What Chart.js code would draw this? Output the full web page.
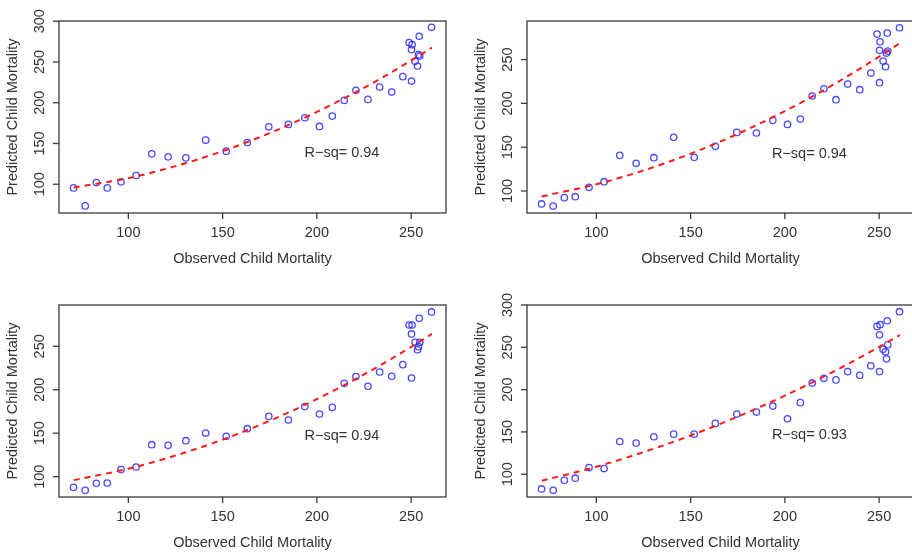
<!DOCTYPE html>
<html>
<head>
<meta charset="utf-8">
<script src="https://cdn.jsdelivr.net/npm/chart.js@4.4.1/dist/chart.umd.min.js"></script>
<style>
html, body { margin: 0; padding: 0; background: #fff; width: 912px; height: 552px; overflow: hidden; position: relative; }
canvas { position: absolute; }
</style>
</head>
<body>
<canvas id="c1" width="456" height="276" style="left:0;top:0"></canvas>
<canvas id="c2" width="470" height="276" style="left:456px;top:0"></canvas>
<canvas id="c3" width="456" height="276" style="left:0;top:276px"></canvas>
<canvas id="c4" width="470" height="276" style="left:456px;top:276px"></canvas>
<script>
// observed child mortality (same for every panel)
const observed = [70.9, 77.1, 83.0, 88.8, 96.1, 104.1, 112.4, 121.1, 130.5, 141.0, 151.9, 163.1, 174.5, 184.9, 193.6, 201.4, 208.2, 214.5, 220.7, 227.1, 233.3, 239.7, 245.6, 248.9, 250.2, 250.2, 250.5, 252.1, 253.4, 253.9, 254.3, 254.6, 260.8];

// predicted values, one list per panel
const predTL = [95.5, 73.4, 102.0, 95.5, 102.9, 110.7, 137.3, 133.6, 132.4, 154.1, 140.6, 151.2, 170.5, 173.4, 181.6, 170.9, 183.6, 202.9, 215.2, 204.1, 219.3, 213.1, 232.0, 273.8, 265.2, 226.6, 271.3, 250.8, 245.1, 259.0, 281.6, 257.4, 292.6];
const predTR = [85.2, 82.9, 92.4, 93.5, 104.2, 110.6, 140.7, 131.6, 138.0, 161.2, 138.4, 151.0, 166.9, 166.2, 180.6, 176.0, 182.1, 208.4, 216.7, 204.2, 222.0, 215.6, 234.6, 279.1, 260.5, 223.6, 270.3, 248.3, 241.8, 257.4, 280.2, 259.7, 286.3];
const predBL = [87.7, 84.3, 92.3, 92.7, 108.1, 111.1, 136.8, 136.1, 141.4, 150.2, 146.4, 155.2, 169.4, 165.2, 180.6, 172.1, 179.8, 207.4, 215.1, 204.0, 220.4, 215.5, 228.9, 274.5, 264.2, 213.5, 274.5, 254.6, 246.0, 249.6, 282.2, 254.6, 289.5];
const predBR = [82.6, 81.0, 92.9, 95.3, 107.9, 106.7, 138.7, 136.8, 144.3, 147.4, 147.4, 160.1, 171.1, 173.5, 180.6, 165.6, 184.6, 207.9, 213.4, 211.5, 221.3, 217.0, 228.1, 274.7, 264.8, 221.3, 276.7, 247.8, 244.7, 236.4, 281.4, 253.0, 292.1];

// fitted curve
const fitX = [71, 100, 125, 150, 175, 200, 225, 250, 261];
const fitTL = [96.0, 107.5, 122.2, 140.6, 162.8, 188.7, 218.3, 251.8, 267.6];
const fitTR = [93.8, 107.7, 123.4, 142.6, 165.2, 191.2, 220.5, 253.3, 268.8];
const fitBL = [96.0, 109.2, 124.3, 142.6, 164.3, 189.2, 217.6, 249.2, 264.2];
const fitBR = [92.3, 108.9, 126.1, 145.8, 168.1, 192.9, 220.4, 250.4, 264.5];

const xTicks = [100, 150, 200, 250];
const yTicksTo300 = [100, 150, 200, 250, 300];
const yTicksTo250 = [100, 150, 200, 250];
const rsqLabels = ['R\u2212sq= 0.94', 'R\u2212sq= 0.94', 'R\u2212sq= 0.94', 'R\u2212sq= 0.93'];

const FONT = '14.5px "Liberation Sans", Arial, sans-serif';

// R style box, ticks, labels and the R-sq note
const rAxes = {
    id: 'rAxes',
    afterDraw(chart, args, o) {
        const ctx = chart.ctx;
        const a = chart.chartArea;
        const x = chart.scales.x;
        const y = chart.scales.y;
        ctx.save();
        ctx.strokeStyle = '#3a3a3a';
        ctx.lineWidth = 1.3;
        ctx.strokeRect(a.left, a.top, a.right - a.left, a.bottom - a.top);
        ctx.fillStyle = '#333';
        ctx.font = FONT;
        ctx.textAlign = 'center';
        ctx.textBaseline = 'middle';
        o.xTicks.forEach((v) => {
            const px = x.getPixelForValue(v);
            ctx.beginPath();
            ctx.moveTo(px, a.bottom);
            ctx.lineTo(px, a.bottom + 6);
            ctx.stroke();
            ctx.fillText(String(v), px, a.bottom + 20);
        });
        o.yTicks.forEach((v) => {
            const py = y.getPixelForValue(v);
            ctx.beginPath();
            ctx.moveTo(a.left, py);
            ctx.lineTo(a.left - 6, py);
            ctx.stroke();
            ctx.save();
            ctx.translate(a.left - 19, py);
            ctx.rotate(-Math.PI / 2);
            ctx.fillText(String(v), 0, 0);
            ctx.restore();
        });
        ctx.fillText('Observed Child Mortality', (a.left + a.right) / 2, a.bottom + 46);
        ctx.save();
        ctx.translate(a.left - 46, (a.top + a.bottom) / 2);
        ctx.rotate(-Math.PI / 2);
        ctx.fillText('Predicted Child Mortality', 0, 0);
        ctx.restore();
        ctx.fillText(o.rsq, x.getPixelForValue(o.rsqAt[0]), y.getPixelForValue(o.rsqAt[1]));
        ctx.restore();
    }
};

function makePanel(id, preds, fitY, yMin, yMax, yTicks, rsq, rsqAt, pad) {
    const pts = observed.map((v, i) => ({ x: v, y: preds[i] }));
    const line = fitX.map((v, i) => ({ x: v, y: fitY[i] }));
    return new Chart(document.getElementById(id), {
        type: 'scatter',
        data: {
            datasets: [{
                data: line,
                showLine: true,
                borderColor: '#ff1a1a',
                borderWidth: 2,
                borderDash: [6, 5],
                pointRadius: 0,
                cubicInterpolationMode: 'monotone',
                order: 0
            }, {
                data: pts,
                pointStyle: 'circle',
                pointRadius: 3.2,
                borderColor: 'rgba(40, 40, 255, 0.85)',
                backgroundColor: 'rgba(0, 0, 0, 0)',
                borderWidth: 1.3,
                order: 1
            }]
        },
        options: {
            responsive: false,
            animation: false,
            layout: { padding: { top: pad.top, right: pad.right, left: 0, bottom: 0 } },
            plugins: {
                legend: { display: false },
                tooltip: { enabled: false },
                rAxes: { xTicks: xTicks, yTicks: yTicks, rsq: rsq, rsqAt: rsqAt }
            },
            scales: {
                x: {
                    type: 'linear', min: 63.2, max: 268.5,
                    ticks: { display: false }, grid: { display: false }, border: { display: false },
                    afterFit: (s) => { s.height = pad.bottom; }
                },
                y: {
                    type: 'linear', min: yMin, max: yMax,
                    ticks: { display: false }, grid: { display: false }, border: { display: false },
                    afterFit: (s) => { s.width = pad.left; }
                }
            }
        },
        plugins: [rAxes]
    });
}

window.onload = () => {
    makePanel('c1', predTL, fitTL, 64.7, 300.3, yTicksTo300, rsqLabels[0], [213.3, 138.9], { top: 21, right: 10, left: 59, bottom: 63 });
    makePanel('c2', predTR, fitTR, 74.9, 294.0, yTicksTo250, rsqLabels[1], [213.0, 142.6], { top: 21, right: 12, left: 71, bottom: 63 });
    makePanel('c3', predBL, fitBL, 76.6, 297.5, yTicksTo250, rsqLabels[2], [213.3, 146.4], { top: 29, right: 10, left: 59, bottom: 55 });
    makePanel('c4', predBR, fitBR, 73.1, 300.0, yTicksTo300, rsqLabels[3], [213.0, 145.8], { top: 29, right: 12, left: 71, bottom: 55 });
};
</script>
</body>
</html>
